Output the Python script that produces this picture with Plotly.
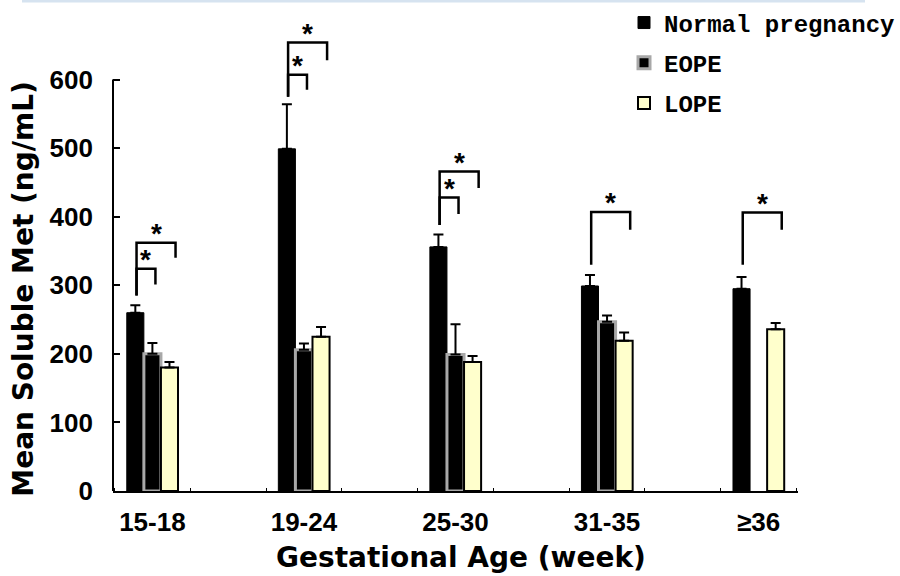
import plotly.graph_objects as go

# ---------------- data ----------------
categories = ["15-18", "19-24", "25-30", "31-35", "≥36"]
series_names = ["Normal pregnancy", "EOPE", "LOPE"]
normal = [260, 499, 356, 299, 295]
normal_err = [11, 65, 18, 16, 17]
eope = [200, 206, 199, 247, None]
eope_err = [16, 9, 44, 9, None]
lope = [180, 225, 188, 219, 236]
lope_err = [8, 14, 9, 12, 9]
y_ticks = [0, 100, 200, 300, 400, 500, 600]
x_title = "Gestational Age (week)"
y_title = "Mean Soluble Met (ng/mL)"

# significance brackets: (group index, compared series index, bracket top,
#                         bottom of left leg, bottom of right leg)
brackets = [
    (0, 1, 324, 285, 301),
    (0, 2, 362, 285, 340),
    (1, 1, 607, 575, 585),
    (1, 2, 654, 575, 628),
    (2, 1, 428, 388, 404),
    (2, 2, 466, 388, 442),
    (3, 2, 407, 330, 381),
    (4, 2, 406, 330, 381),
]

# ---------------- style ----------------
W, H = 900, 576
ML, MR, MT, MB = 113, 102, 11, 85
PW, PH = W - ML - MR, H - MT - MB
BARGAP = 0.662
n_series = 3
bar_w = (1 - BARGAP) / n_series
offsets = [(i - (n_series - 1) / 2) * bar_w for i in range(n_series)]
leg_left_shift = 0.008
leg_right_shift = [0.0, 0.02, 0.04]

tick_font = dict(family="Liberation Sans, Arial, sans-serif", size=26, color="black", weight="bold")
title_font = dict(family="DejaVu Sans, sans-serif", size=28, color="black", weight="bold")

x = list(range(len(categories)))

fig = go.Figure()
colors = ["black", "black", "#ffffcc"]
line_colors = ["black", "#a8a8a8", "black"]
line_widths = [1, 3, 2]
vals = [normal, eope, lope]
errs = [normal_err, eope_err, lope_err]
for i, name in enumerate(series_names):
    fig.add_trace(go.Bar(
        x=x, y=vals[i], name=name,
        marker=dict(color=colors[i], line=dict(color=line_colors[i], width=line_widths[i])),
        error_y=dict(type="data", array=errs[i], arrayminus=[0] * len(x), symmetric=False,
                     color="black", thickness=2, width=5),
        legendgroup=name,
    ))

shapes = []
annotations = []
for g, s, top, lb, rb in brackets:
    xl = g + offsets[0] + leg_left_shift
    xr = g + offsets[s] + leg_right_shift[s]
    shapes.append(dict(type="path", xref="x", yref="y",
                       path=f"M{xl},{lb} L{xl},{top} L{xr},{top} L{xr},{rb}",
                       line=dict(color="black", width=2.5)))
    annotations.append(dict(x=(xl + xr) / 2, y=top, xref="x", yref="y", text="*",
                            showarrow=False, yanchor="middle", yshift=9,
                            font=dict(family="Liberation Sans, Arial", size=28, color="black", weight="bold")))

# axis titles
annotations.append(dict(text=y_title, textangle=-90, xref="paper", yref="y",
                        x=(24 - ML) / PW, y=y_ticks[-1] / 2 - 5, xanchor="center", yanchor="middle",
                        showarrow=False, font=title_font))
annotations.append(dict(text=x_title, xref="paper", yref="paper",
                        x=(461 - ML) / PW, y=-66 / PH, xanchor="center", yanchor="middle",
                        showarrow=False, font=title_font))

# y axis line only up to the top tick
shapes.append(dict(type="line", xref="paper", yref="y", x0=0, x1=0, y0=0, y1=y_ticks[-1],
                   line=dict(color="black", width=2)))
# light blue frame edge at top
shapes.append(dict(type="line", xref="paper", yref="paper",
                   x0=(22 - ML) / PW, x1=(865 - ML) / PW,
                   y0=1 + (MT - 1) / PH, y1=1 + (MT - 1) / PH,
                   line=dict(color="#d6e3f0", width=3)))

fig.update_layout(
    width=W, height=H, autosize=False,
    margin=dict(l=ML, r=MR, t=MT, b=MB, autoexpand=False),
    paper_bgcolor="white", plot_bgcolor="white",
    barmode="group", bargap=BARGAP, bargroupgap=0,
    shapes=shapes, annotations=annotations,
    legend=dict(x=0.746, y=1.022, xanchor="left", yanchor="top",
                font=dict(family="Liberation Mono, monospace", size=24, color="black", weight="bold"),
                traceorder="grouped", tracegroupgap=6, bgcolor="rgba(0,0,0,0)"),
    xaxis=dict(range=[-0.26, 4.26], tickmode="array", tickvals=x, ticktext=categories,
               ticks="", showline=True, linecolor="black", linewidth=2, showgrid=False,
               zeroline=False, tickfont=tick_font, ticklabelstandoff=7,
               minor=dict(ticks="inside", tick0=-0.25, dtick=0.5, ticklen=3, tickwidth=1, tickcolor="black")),
    yaxis=dict(range=[0, 700], tickmode="array", tickvals=y_ticks, ticks="inside", ticklen=7,
               tickwidth=2, tickcolor="black", showline=False, showgrid=False, zeroline=False,
               tickfont=tick_font, ticklabelstandoff=19),
)

fig.write_html("out.html")
